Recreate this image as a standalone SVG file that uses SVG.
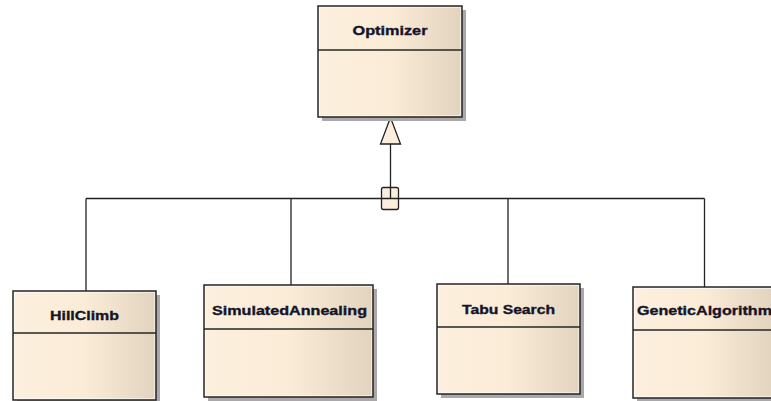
<svg xmlns="http://www.w3.org/2000/svg" width="771" height="401" viewBox="0 0 771 401">
  <defs>
    <linearGradient id="classFill" x1="0" y1="0" x2="1" y2="0">
      <stop offset="0" stop-color="#fcefdd"/>
      <stop offset="0.5" stop-color="#fbecd8"/>
      <stop offset="1" stop-color="#e1d3bd"/>
    </linearGradient>
    <style>
      .shadow { fill: #a9a9a9; }
      .body { fill: url(#classFill); stroke: #262626; stroke-width: 1.5; }
      .inner { fill: none; stroke: #ffffff; stroke-opacity: 0.55; stroke-width: 1; }
      .divider { stroke: #262626; stroke-width: 1.3; }
      .name { font-family: "Liberation Sans", Arial, sans-serif; font-weight: bold; font-size: 13px; fill: #141428; stroke: #141428; stroke-width: 0.35; }
      .wire { fill: none; stroke: #222222; stroke-width: 1.3; }
      .head { fill: #fbeedc; stroke: #222222; stroke-width: 1.3; }
    </style>
  </defs>

  <rect width="771" height="401" fill="#ffffff"/>

  <!-- generalization tree -->
  <g id="connectors">
    <rect class="head" x="381.5" y="187.5" width="17" height="22" rx="2"/>
    <path class="wire" d="M390.5 144 V198.5 M86 198.5 H704.5 M86 198.5 V291 M291 198.5 V285 M508 198.5 V284 M704.5 198.5 V287"/>
    <polygon class="head" points="390.5,117.5 380.5,144 400.5,144"/>
  </g>

  <g id="Optimizer">
    <rect class="shadow" x="322" y="10" width="144" height="111"/>
    <rect class="body" x="318" y="6" width="144" height="111"/>
    <rect class="inner" x="319.5" y="7.5" width="141" height="108"/>
    <line class="divider" x1="318" y1="50" x2="462" y2="50"/>
    <text class="name" x="390" y="35" text-anchor="middle" textLength="75" lengthAdjust="spacingAndGlyphs">Optimizer</text>
  </g>

  <g id="HillClimb">
    <rect class="shadow" x="17" y="295" width="143" height="109"/>
    <rect class="body" x="13" y="291" width="143" height="109"/>
    <rect class="inner" x="14.5" y="292.5" width="140" height="106"/>
    <line class="divider" x1="13" y1="333" x2="156" y2="333"/>
    <text class="name" x="84.5" y="320" text-anchor="middle" textLength="69" lengthAdjust="spacingAndGlyphs">HillClimb</text>
  </g>

  <g id="SimulatedAnnealing">
    <rect class="shadow" x="208" y="289" width="169" height="112"/>
    <rect class="body" x="204" y="285" width="169" height="112"/>
    <rect class="inner" x="205.5" y="286.5" width="166" height="109"/>
    <line class="divider" x1="204" y1="329" x2="373" y2="329"/>
    <text class="name" x="289.5" y="315" text-anchor="middle" textLength="155" lengthAdjust="spacingAndGlyphs">SimulatedAnnealing</text>
  </g>

  <g id="TabuSearch">
    <rect class="shadow" x="441" y="288" width="143" height="110"/>
    <rect class="body" x="437" y="284" width="143" height="110"/>
    <rect class="inner" x="438.5" y="285.5" width="140" height="107"/>
    <line class="divider" x1="437" y1="327" x2="580" y2="327"/>
    <text class="name" x="508.5" y="313.5" text-anchor="middle" textLength="93" lengthAdjust="spacingAndGlyphs">Tabu Search</text>
  </g>

  <g id="GeneticAlgorithm">
    <rect class="shadow" x="637" y="291" width="142" height="111"/>
    <rect class="body" x="633" y="287" width="142" height="111"/>
    <rect class="inner" x="634.5" y="288.5" width="139" height="108"/>
    <line class="divider" x1="633" y1="330" x2="775" y2="330"/>
    <text class="name" x="637" y="315" textLength="135" lengthAdjust="spacingAndGlyphs">GeneticAlgorithm</text>
  </g>
</svg>
